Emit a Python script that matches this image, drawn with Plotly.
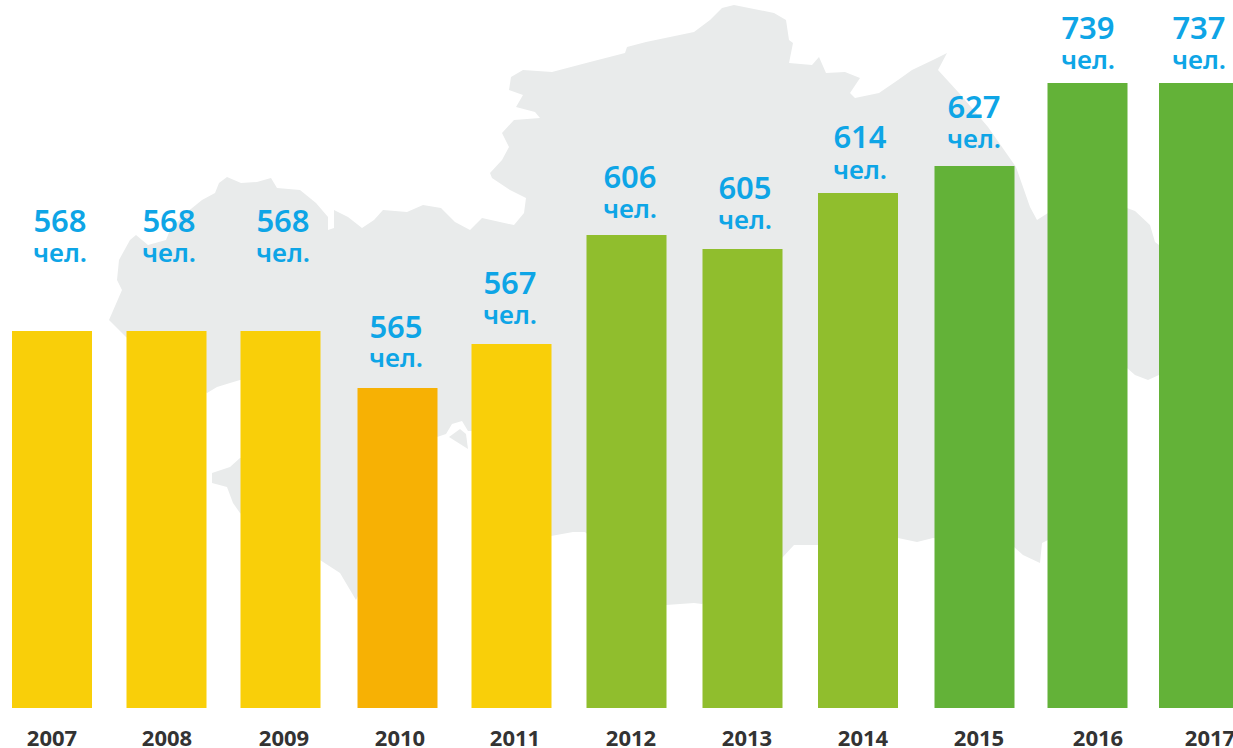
import plotly.graph_objects as go

# --- data ---
years = ["2007", "2008", "2009", "2010", "2011", "2012", "2013", "2014", "2015", "2016", "2017"]
people = [568, 568, 568, 565, 567, 606, 605, 614, 627, 739, 737]
# drawn bar lengths as they appear in the picture (the source is not to scale with its labels)
bar_lengths = [377, 377, 377, 320, 364, 473, 459, 515, 542, 625, 625]
unit = "чел."

# --- layout / style ---
W, H, BASE = 1233, 748, 708
bar_centers = [52, 166.5, 280.5, 397.5, 511.5, 626.5, 742.5, 858, 974.5, 1087.5, 1199]
bar_widths = [80, 80, 80, 80, 80, 80, 80, 80, 80, 80, 80]
tick_centers = [52, 167, 284, 400, 515, 631, 747, 863, 979, 1098, 1210]
label_centers = [60, 169, 283, 396, 510, 630, 745, 860, 974, 1088, 1199]
number_tops = [224, 224, 224, 330, 286, 180, 191, 140, 110, 31, 31]
unit_tops = [255, 255, 255, 360, 317, 211, 222, 172, 141, 62, 62]
YEL, ORG, LIME, GRN = "#F9CF09", "#F7B104", "#90BE2D", "#63B238"
bar_colors = [YEL, YEL, YEL, ORG, YEL, LIME, LIME, LIME, GRN, GRN, GRN]
BLUE, DARK, MAP = "#0EA5E6", "#333333", "#E9EBEB"
FONT = "Noto Sans"

# background silhouette outline, image coordinates
map_x = [109, 122, 117, 119, 130, 136, 148, 166, 170, 186, 202, 215, 219, 227, 241, 257, 271, 277, 300, 316, 328, 328, 334, 334,
         348, 362, 374, 383, 407, 423, 441, 455, 470, 482, 514, 524, 526, 510, 492, 490, 502, 509, 502, 514,
         540, 535, 516, 523, 509, 511, 523, 552, 590, 625, 627, 646, 694, 710, 722, 734, 774, 786, 789, 793,
         789, 812, 819, 826, 845, 860, 850, 855, 879, 898, 912, 933, 947, 938, 959, 988, 1016, 1030, 1037, 1048,
         1127, 1135, 1150, 1155, 1159, 1159, 1148, 1135, 1127, 1048, 1042, 1040, 1023, 1014, 933, 917, 898, 817, 794, 782,
         702, 694, 666, 585, 573, 551, 472, 468, 462, 452, 446, 437, 356, 340, 320, 240, 233, 227, 212, 212,
         230, 240, 260, 260, 240, 230, 217, 207, 126]
map_y = [320, 290, 280, 260, 240, 235, 245, 240, 230, 213, 200, 193, 183, 177, 183, 182, 178, 188, 190, 203, 217, 230, 228, 210,
         217, 228, 220, 210, 212, 205, 208, 222, 230, 218, 225, 213, 198, 190, 178, 173, 160, 147, 133, 120,
         118, 112, 107, 95, 90, 77, 70, 72, 62, 53, 47, 42, 32, 20, 8, 5, 13, 20, 40, 43,
         63, 65, 57, 73, 72, 78, 93, 98, 93, 80, 70, 60, 53, 70, 93, 127, 167, 207, 220, 213,
         208, 211, 225, 242, 245, 375, 380, 375, 368, 540, 543, 563, 555, 547, 538, 542, 538, 545, 545, 558,
         604, 603, 605, 532, 532, 536, 431, 431, 421, 424, 434, 437, 600, 573, 560, 513, 503, 487, 483, 473,
         467, 458, 458, 380, 380, 383, 387, 393, 337]
islet_x = [449, 460, 466, 468]
islet_y = [437, 429, 434, 449]


def path(xs, ys):
    pts = [f"{x},{BASE - y}" for x, y in zip(xs, ys)]
    return "M" + " L".join(pts) + " Z"


fig = go.Figure()
fig.add_trace(go.Bar(x=bar_centers, y=bar_lengths, width=bar_widths,
                     marker=dict(color=bar_colors, line_width=0), hoverinfo="skip"))
fig.add_trace(go.Scatter(x=label_centers, y=[BASE - v for v in number_tops], mode="text",
                         text=[str(v) for v in people], cliponaxis=False, hoverinfo="skip",
                         textfont=dict(family=FONT, size=31, color=BLUE, weight=600)))
fig.add_trace(go.Scatter(x=label_centers, y=[BASE - v for v in unit_tops], mode="text",
                         text=[unit] * len(years), cliponaxis=False, hoverinfo="skip",
                         textfont=dict(family=FONT, size=26, color=BLUE, weight=600)))

fig.update_layout(
    width=W, height=H, showlegend=False, paper_bgcolor="white", plot_bgcolor="rgba(0,0,0,0)",
    margin=dict(l=0, r=0, t=0, b=H - BASE, pad=0),
    shapes=[dict(type="path", xref="x", yref="y", layer="below", path=path(a, b),
                 fillcolor=MAP, line_width=0)
            for a, b in [(map_x, map_y), (islet_x, islet_y)]],
    xaxis=dict(range=[0, W], tickmode="array", tickvals=tick_centers, ticktext=years,
               showgrid=False, zeroline=False, showline=False, ticks="", ticklabelstandoff=15,
               ticklabeloverflow="allow",
               tickfont=dict(family=FONT, size=22, color=DARK, weight=700), automargin=False),
    yaxis=dict(range=[0, BASE], visible=False, automargin=False),
)
fig.write_html("out.html", config=dict(displayModeBar=False),
               post_script="document.body.style.margin='0';document.body.style.overflow='hidden';")
